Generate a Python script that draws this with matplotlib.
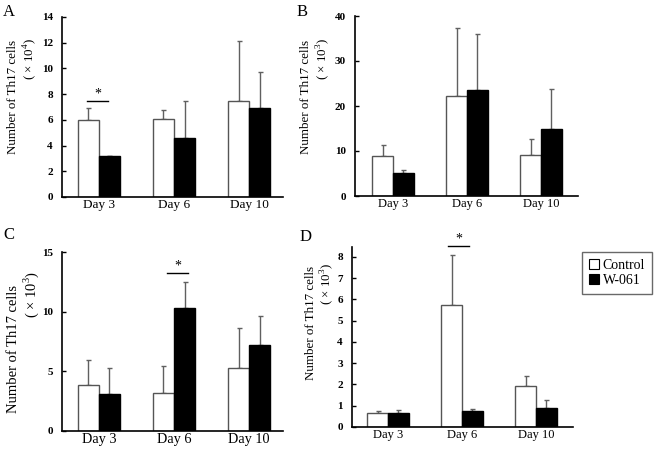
import numpy as np
from matplotlib import pyplot as plt
from matplotlib.patches import Patch

plt.rcParams['font.family'] = ['Liberation Serif', 'DejaVu Serif']
plt.rcParams['mathtext.fontset'] = 'custom'
plt.rcParams['mathtext.rm'] = 'Liberation Serif'

W, H = 662, 449

days = ["Day 3", "Day 6", "Day 10"]

# Panel A (x 10^4)
ctrlA = [5.96, 6.04, 7.47]
ctrlA_err = [0.99, 0.75, 4.69]
w061A = [3.21, 4.61, 6.95]
w061A_err = [0.0, 2.83, 2.75]

# Panel B (x 10^3)
ctrlB = [8.83, 22.26, 9.2]
ctrlB_err = [2.52, 14.99, 3.56]
w061B = [5.05, 23.45, 14.99]
w061B_err = [0.81, 12.62, 8.68]

# Panel C (x 10^3)
ctrlC = [3.82, 3.15, 5.30]
ctrlC_err = [2.17, 2.31, 3.34]
w061C = [3.09, 10.34, 7.19]
w061C_err = [2.15, 2.12, 2.43]

# Panel D (x 10^3)
ctrlD = [0.64, 5.73, 1.94]
ctrlD_err = [0.13, 2.38, 0.46]
w061D = [0.64, 0.75, 0.88]
w061D_err = [0.16, 0.08, 0.39]

def px(x0, y0, x1, y1):
    #pixel box -> figure fraction rect
    return [x0 / W, 1 - y1 / H, (x1 - x0) / W, (y1 - y0) / H]

def panel(fig, box, ctrl, ctrl_err, w061, w061_err, ylim, yticks, xlim,
          power, letter, letter_xy, lab1_xy, lab2_xy, labsize, daysize,
          sig=None):
    ax = fig.add_axes(px(*box))
    x = np.arange(len(days))
    bw = 0.28
    ax.bar(x - bw / 2, ctrl, bw, color='white', edgecolor='#555555', linewidth=1.0, zorder=2)
    ax.bar(x + bw / 2, w061, bw, color='black', edgecolor='black', linewidth=1.0, zorder=2)
    ax.errorbar(x - bw / 2, ctrl, yerr=[np.zeros(3), ctrl_err], fmt='none',
                ecolor='#606060', elinewidth=1.0, capsize=1.8, capthick=1.0, zorder=1)
    ax.errorbar(x + bw / 2, w061, yerr=[np.zeros(3), w061_err], fmt='none',
                ecolor='#606060', elinewidth=1.0, capsize=1.8, capthick=1.0, zorder=1)
    ax.set_xlim(*xlim)
    ax.set_ylim(*ylim)
    ax.set_yticks(yticks)
    ax.set_xticks(x)
    ax.set_xticklabels(days, fontsize=daysize)
    for t in ax.get_yticklabels():
        t.set_fontweight('bold')
        t.set_fontsize(8)
    ax.tick_params(axis='y', direction='in', length=3, width=1, pad=6.5)
    ax.tick_params(axis='x', length=0, pad=1.5)
    for s in ['top', 'right']:
        ax.spines[s].set_visible(False)
    for s in ['left', 'bottom']:
        ax.spines[s].set_linewidth(1.2)

    #significance bar with star
    if sig is not None:
        x0, x1, y = sig
        ax.plot([x0, x1], [y, y], color='black', linewidth=1.0, clip_on=False)
        ax.text((x0 + x1) / 2, y, "*", ha='center', va='bottom', fontsize=10)

    fig.text(letter_xy[0] / W, 1 - letter_xy[1] / H, letter, fontsize=12, ha='left', va='top')
    fig.text(lab1_xy[0] / W, 1 - lab1_xy[1] / H, "Number of Th17 cells", rotation=90,
             ha='center', va='center', fontsize=labsize)
    fig.text(lab2_xy[0] / W, 1 - lab2_xy[1] / H, "( × 10$^{%d}$)" % power, rotation=90,
             ha='center', va='top', fontsize=labsize)
    return ax

fig = plt.figure(figsize=(W / 100, H / 100), dpi=100)

panel(fig, (62, 17, 283, 197), ctrlA, ctrlA_err, w061A, w061A_err,
      (0, 14), [0, 2, 4, 6, 8, 10, 12, 14], (-0.493, 2.453), 4,
      "A", (3, 4), (13, 97), (30, 38), 9.4, 9.5, sig=(-0.16, 0.12, 7.47))
panel(fig, (355, 16, 578, 196), ctrlB, ctrlB_err, w061B, w061B_err,
      (0, 40), [0, 10, 20, 30, 40], (-0.514, 2.5), 3,
      "B", (297, 4), (306, 97), (323, 38), 9.4, 9.0)
panel(fig, (62, 252, 283, 431), ctrlC, ctrlC_err, w061C, w061C_err,
      (0, 15), [0, 5, 10, 15], (-0.493, 2.453), 3,
      "C", (3, 227), (14, 349), (31, 271), 10.5, 10.3, sig=(0.91, 1.19, 13.24))
panel(fig, (352, 247, 573, 427), ctrlD, ctrlD_err, w061D, w061D_err,
      (0, 8.47), [0, 1, 2, 3, 4, 5, 6, 7, 8], (-0.486, 2.5), 3,
      "D", (300, 229), (311, 323), (327, 263), 9.4, 9.0, sig=(0.81, 1.095, 8.52))

#legend
handles = [Patch(facecolor='white', edgecolor='black', linewidth=0.8, label='Control'),
           Patch(facecolor='black', edgecolor='black', linewidth=0.8, label='W-061')]
leg = fig.legend(handles=handles, loc='upper left', bbox_to_anchor=(582 / W, 1 - 252 / H),
                 fontsize=10, frameon=True, fancybox=False, handlelength=0.7, handleheight=0.7,
                 handletextpad=0.3, borderpad=0.5, labelspacing=0.15, borderaxespad=0)
leg.get_frame().set_edgecolor('#444444')
leg.get_frame().set_linewidth(1.0)

plt.savefig("out.png", dpi=100)
